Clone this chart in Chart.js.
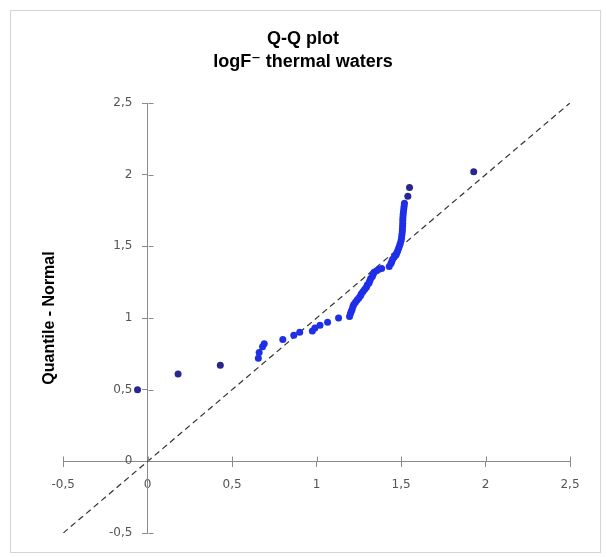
<!DOCTYPE html>
<html>
<head>
<meta charset="utf-8">
<script src="https://cdn.jsdelivr.net/npm/chart.js@4/dist/chart.umd.min.js"></script>
<style>
    html, body { margin: 0; padding: 0; background: #fff; }
    #wrap { position: relative; width: 607px; height: 557px; }
    #frame { position: absolute; left: 10px; top: 10px; width: 589px; height: 541px; border: 1px solid #d4d4d4; pointer-events: none; }
</style>
</head>
<body>
<div id="wrap">
    <canvas id="qq"></canvas>
    <div id="frame"></div>
</div>
<script>
// sample quantiles (logF-) vs normal quantiles
const mainX = [0.655, 0.66, 0.68, 0.69, 0.80, 0.865, 0.90, 0.975, 0.99, 1.02, 1.065, 1.13,
    1.195, 1.20, 1.205, 1.21, 1.215, 1.22, 1.23, 1.24, 1.25, 1.26, 1.265, 1.275, 1.285, 1.295,
    1.30, 1.31, 1.315, 1.32, 1.33, 1.335, 1.34, 1.355, 1.37, 1.385,
    1.43, 1.44, 1.445, 1.45, 1.46, 1.47, 1.475, 1.48, 1.485, 1.49, 1.495, 1.50, 1.503, 1.505,
    1.507, 1.508, 1.509, 1.51, 1.51, 1.511, 1.512, 1.514, 1.516, 1.518, 1.52];
const mainY = [0.72, 0.76, 0.80, 0.82, 0.85, 0.88, 0.90, 0.91, 0.93, 0.95, 0.97, 1.00,
    1.01, 1.03, 1.045, 1.06, 1.08, 1.095, 1.11, 1.125, 1.14, 1.155, 1.17, 1.185, 1.20, 1.215,
    1.23, 1.245, 1.26, 1.275, 1.29, 1.305, 1.32, 1.33, 1.34, 1.345,
    1.36, 1.38, 1.395, 1.41, 1.425, 1.44, 1.455, 1.47, 1.485, 1.50, 1.52, 1.54, 1.56, 1.58,
    1.60, 1.62, 1.64, 1.66, 1.68, 1.70, 1.72, 1.74, 1.76, 1.78, 1.80];
const tailX = [-0.06, 0.18, 0.43, 1.54, 1.55, 1.93];
const tailY = [0.50, 0.61, 0.67, 1.85, 1.91, 2.02];
const refLineX = [-0.5, 2.5];
const refLineY = [-0.5, 2.5];

const axisMin = -0.5;
const axisMax = 2.5;
const axisStep = 0.5;

const axisColor = '#8a8a8a';
const labelColor = '#555555';

function pts(xs, ys) {
    return xs.map((x, i) => ({ x: x, y: ys[i] }));
}

function fmt(v) {
    return String(Math.round(v * 10) / 10).replace('.', ',');
}

// y labels sit right-aligned on the axis when it is placed at x=0, so pad them
function fmtY(v) {
    return fmt(v) + '    ';
}

// Excel-style cross ticks: draw the inner half of each tick mark
const crossTicks = {
    id: 'crossTicks',
    afterDraw(chart) {
        const { ctx, scales: { x, y } } = chart;
        const x0 = Math.round(x.getPixelForValue(0)) + 0.5;
        const y0 = Math.round(y.getPixelForValue(0)) + 0.5;
        ctx.save();
        ctx.strokeStyle = axisColor;
        ctx.lineWidth = 1;
        ctx.beginPath();
        x.ticks.forEach(t => {
            const px = Math.round(x.getPixelForValue(t.value)) + 0.5;
            ctx.moveTo(px, y0);
            ctx.lineTo(px, y0 - 5);
        });
        y.ticks.forEach(t => {
            const py = Math.round(y.getPixelForValue(t.value)) + 0.5;
            ctx.moveTo(x0, py);
            ctx.lineTo(x0 + 5, py);
        });
        ctx.stroke();
        ctx.restore();
    }
};

const tickFont = { family: "'DejaVu Sans', Verdana, sans-serif", size: 12 };

new Chart(document.getElementById('qq'), {
    type: 'scatter',
    data: {
        datasets: [
            {
                label: 'tail',
                data: pts(tailX, tailY),
                backgroundColor: '#27278f',
                borderColor: '#27278f',
                pointRadius: 3.5,
                pointBorderWidth: 0
            },
            {
                label: 'main',
                data: pts(mainX, mainY),
                backgroundColor: '#1f2fe8',
                borderColor: '#1f2fe8',
                pointRadius: 3.5,
                pointBorderWidth: 0
            },
            {
                label: 'y = x',
                data: pts(refLineX, refLineY),
                showLine: true,
                borderColor: '#333333',
                borderWidth: 1.2,
                borderDash: [6, 4],
                pointRadius: 0
            }
        ]
    },
    options: {
        responsive: true,
        maintainAspectRatio: false,
        animation: false,
        layout: { padding: { left: 36, right: 37, top: 18, bottom: 24 } },
        plugins: {
            legend: { display: false },
            tooltip: { enabled: false },
            title: {
                display: true,
                text: ['Q-Q plot', 'logF\u207B thermal waters'],
                color: '#000',
                font: { family: "'Liberation Sans', Arial, 'DejaVu Sans', sans-serif", size: 18, weight: 'bold', lineHeight: 1.25 },
                padding: { top: 10, bottom: 30 }
            }
        },
        scales: {
            x: {
                type: 'linear',
                position: { y: 0 },
                min: axisMin,
                max: axisMax,
                ticks: { stepSize: axisStep, color: labelColor, font: tickFont, padding: 11, callback: fmt, maxRotation: 0 },
                grid: { display: true, drawOnChartArea: false, drawTicks: true, tickLength: 5, color: axisColor },
                border: { display: true, color: axisColor, width: 1 }
            },
            y: {
                type: 'linear',
                position: { x: 0 },
                min: axisMin,
                max: axisMax,
                ticks: { stepSize: axisStep, color: labelColor, font: tickFont, callback: fmtY },
                grid: { display: true, drawOnChartArea: false, drawTicks: true, tickLength: 5, color: axisColor },
                border: { display: true, color: axisColor, width: 1 }
            },
            yTitle: {
                type: 'linear',
                position: 'left',
                min: 0,
                max: 1,
                ticks: { display: false },
                grid: { display: false, drawTicks: false },
                border: { display: false },
                title: {
                    display: true,
                    text: 'Quantile - Normal',
                    color: '#000',
                    font: { family: "'Liberation Sans', Arial, sans-serif", size: 16, weight: 'bold' }
                }
            }
        }
    },
    plugins: [crossTicks]
});
</script>
</body>
</html>
